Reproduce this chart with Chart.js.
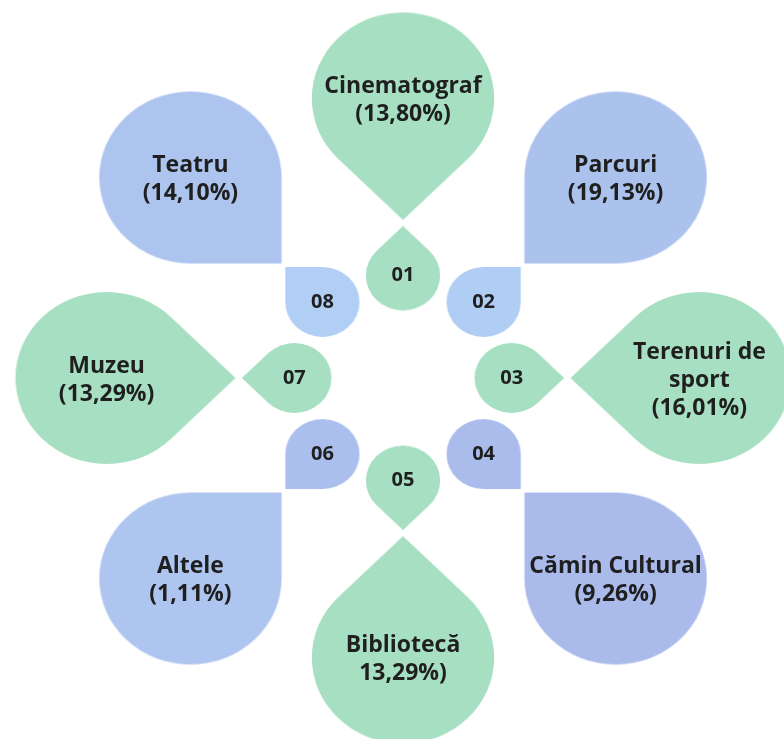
<!DOCTYPE html>
<html>
<head>
<meta charset="utf-8">
<script src="https://cdn.jsdelivr.net/npm/chart.js@4"></script>
<style>
html,body{margin:0;padding:0;background:#ffffff;}
#wrap{width:784px;height:739px;position:relative;}
</style>
</head>
<body>
<div id="wrap"><canvas id="c"></canvas></div>
<script>
// ---- data ----
const categories = ['Cinematograf','Parcuri','Terenuri de sport','Cămin Cultural','Bibliotecă','Altele','Muzeu','Teatru'];
const nameLines = [['Cinematograf'],['Parcuri'],['Terenuri de','sport'],['Cămin Cultural'],['Bibliotecă'],['Altele'],['Muzeu'],['Teatru']];
const shares = [13.80,19.13,16.01,9.26,13.29,1.11,13.29,14.10];
const shareLabels = ['(13,80%)','(19,13%)','(16,01%)','(9,26%)','13,29%)','(1,11%)','(13,29%)','(14,10%)'];
const codes = ['01','02','03','04','05','06','07','08'];

// ---- styles ----
const bigColors   = ['#a6dfc1','#abc2ed','#a6dfc1','#a9baeb','#a6dfc1','#aec5ef','#a6dfc1','#adc4ee'];
const smallColors = ['#a6dfc1','#b0cdf4','#a6dfc1','#aabcec','#a6dfc1','#abbfee','#a6dfc1','#b1cff5'];
const SX = 1.06;          // horizontal stretch of the artwork
const R_BIG = 86, R_SMALL = 35;
const FONT = '"Open Sans", "DejaVu Sans", sans-serif';

// distance (in y-pixel units) from the centre to the point where the two drops meet
function meetDist(i, big) {
  const cardinal = i % 2 === 0;
  if (big) return cardinal ? 158 : 162;
  return cardinal ? 152 : 157;
}
function angleOf(i) { return i * Math.PI / 4; } // clockwise from top

function centre(i, big) {
  const R = big ? R_BIG : R_SMALL;
  const d = big ? meetDist(i, true) + R * Math.SQRT2 : meetDist(i, false) - R * Math.SQRT2;
  const a = angleOf(i);
  return { x: d * Math.sin(a), y: d * Math.cos(a) };
}

function dropImage(R, phi, color) {
  const ext = R * Math.SQRT2;
  const W = 2 * Math.ceil(ext * SX + 3), H = 2 * Math.ceil(ext + 3);
  const cv = document.createElement('canvas');
  cv.width = W; cv.height = H;
  const g = cv.getContext('2d');
  g.translate(W / 2, H / 2);
  g.scale(SX, 1);
  g.rotate(phi);
  g.beginPath();
  g.moveTo(ext, 0);
  g.arc(0, 0, R, Math.PI / 4, 7 * Math.PI / 4, false);
  g.closePath();
  g.fillStyle = color;
  g.fill();
  return cv;
}

// outward screen direction for index i (canvas coords): -90deg + 45deg*i
const bigImages = categories.map((c, i) => dropImage(R_BIG, -Math.PI / 2 + angleOf(i) + Math.PI, bigColors[i]));
const smallImages = categories.map((c, i) => dropImage(R_SMALL, -Math.PI / 2 + angleOf(i), smallColors[i]));

const labelPlugin = {
  id: 'dropLabels',
  afterDatasetsDraw(chart) {
    const ctx = chart.ctx;
    const bigPts = chart.getDatasetMeta(0).data;
    const smallPts = chart.getDatasetMeta(1).data;
    ctx.save();
    ctx.fillStyle = '#1f1f1f';
    ctx.textAlign = 'center';
    ctx.textBaseline = 'middle';
    ctx.font = 'bold 23px ' + FONT;
    const LH = 28;
    bigPts.forEach((p, i) => {
      const lines = nameLines[i].concat([shareLabels[i]]);
      const y0 = p.y + 2 - (lines.length - 1) * LH / 2;
      lines.forEach((t, k) => ctx.fillText(t, p.x, y0 + k * LH));
    });
    ctx.font = 'bold 20px ' + FONT;
    smallPts.forEach((p, i) => ctx.fillText(codes[i], p.x, p.y));
    ctx.restore();
  }
};

new Chart(document.getElementById('c'), {
  type: 'scatter',
  data: {
    labels: categories,
    datasets: [
      {
        label: 'Categorii',
        data: categories.map((c, i) => centre(i, true)),
        pointStyle: (ctx) => bigImages[ctx.dataIndex],
        pointRadius: 1,
        pointHoverRadius: 1,
        backgroundColor: bigColors,
        borderWidth: 0
      },
      {
        label: 'Coduri',
        data: categories.map((c, i) => centre(i, false)),
        pointStyle: (ctx) => smallImages[ctx.dataIndex],
        pointRadius: 1,
        pointHoverRadius: 1,
        backgroundColor: smallColors,
        borderWidth: 0
      }
    ]
  },
  options: {
    responsive: true,
    maintainAspectRatio: false,
    animation: false,
    events: [],
    layout: { padding: 0, autoPadding: false },
    scales: {
      x: { type: 'linear', min: -403 / SX, max: (784 - 403) / SX, display: false },
      y: { type: 'linear', min: -(739 - 378), max: 378, display: false }
    },
    plugins: { legend: { display: false }, tooltip: { enabled: false } }
  },
  plugins: [labelPlugin]
});
</script>
</body>
</html>
